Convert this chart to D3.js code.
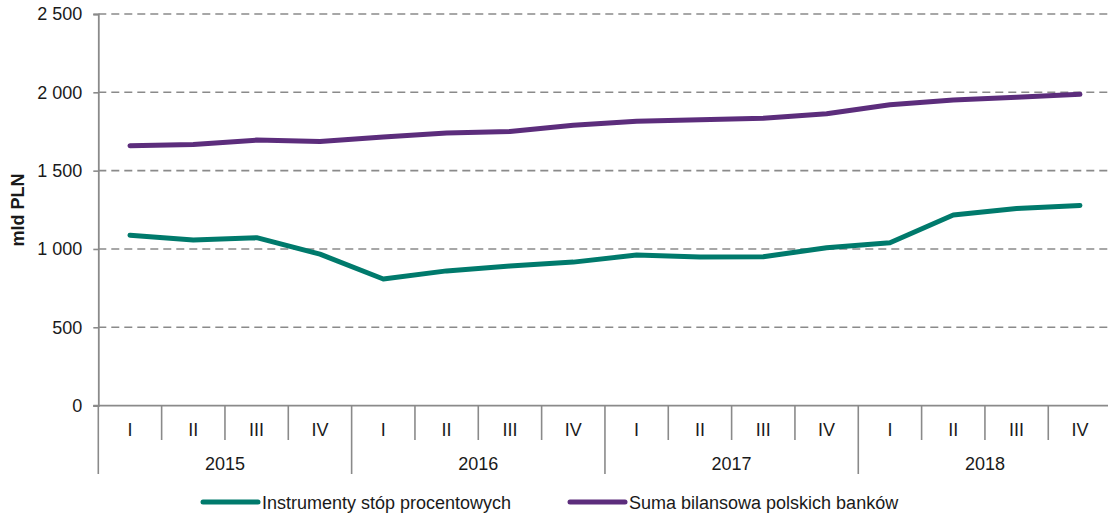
<!DOCTYPE html>
<html>
<head>
<meta charset="utf-8">
<script src="https://cdn.jsdelivr.net/npm/d3@7"></script>
<style>
  body { margin: 0; background: #fff; }
  text { font-family: "Liberation Sans", Arial, sans-serif; fill: #1a1a1a; }
</style>
</head>
<body>
<div id="chart"></div>
<script>
// data
const years = ["2015", "2016", "2017", "2018"];
const quarters = ["I", "II", "III", "IV"];
const instrumenty = [1088, 1057, 1072, 967, 808, 860, 891, 916, 961, 948, 950, 1008, 1040, 1217, 1259, 1278];
const sumaBilansowa = [1659, 1667, 1695, 1686, 1715, 1740, 1750, 1790, 1815, 1825, 1834, 1863, 1921, 1951, 1968, 1987];
const yTicks = [0, 500, 1000, 1500, 2000, 2500];
const seriesNames = ["Instrumenty stóp procentowych", "Suma bilansowa polskich banków"];
const seriesColors = ["#007a6c", "#5c2d7c"];

const width = 1108, height = 515;
const plotLeft = 98.3, plotRight = 1111.6, plotTop = 14, plotBottom = 405.6;

const keys = [];
years.forEach(y => quarters.forEach(q => keys.push(y + "-" + q)));

const svg = d3.select("#chart").append("svg")
  .attr("width", width)
  .attr("height", height);

const x = d3.scaleBand().domain(keys).range([plotLeft, plotRight]);
const y = d3.scaleLinear().domain([0, 2500]).range([plotBottom, plotTop]);

const fmt = v => d3.format(",")(v).replace(",", "\u00a0");

// gridlines
svg.append("g")
  .selectAll("line")
  .data(yTicks.filter(d => d > 0))
  .enter().append("line")
  .attr("x1", plotLeft).attr("x2", width)
  .attr("y1", d => y(d)).attr("y2", d => y(d))
  .attr("stroke", "#8a8a8a")
  .attr("stroke-width", 1.6)
  .attr("stroke-dasharray", "8,5");

// y axis
const yAxis = svg.append("g")
  .attr("transform", `translate(${plotLeft},0)`)
  .call(d3.axisLeft(y).tickValues(yTicks).tickSize(5).tickPadding(11).tickFormat(fmt));
yAxis.select(".domain").attr("stroke", "#8a8a8a").attr("stroke-width", 1.8);
yAxis.selectAll(".tick line").attr("stroke", "#8a8a8a").attr("stroke-width", 1.6);
yAxis.selectAll("text").style("font-size", "18px").attr("fill", "#1a1a1a");

// x axis base line
svg.append("line")
  .attr("x1", plotLeft - 5).attr("x2", width)
  .attr("y1", plotBottom).attr("y2", plotBottom)
  .attr("stroke", "#8a8a8a").attr("stroke-width", 1.8);

// quarter separators
svg.append("g")
  .selectAll("line")
  .data(keys)
  .enter().append("line")
  .attr("x1", d => x(d)).attr("x2", d => x(d))
  .attr("y1", plotBottom)
  .attr("y2", (d, i) => i % 4 === 0 ? 474 : 440)
  .attr("stroke", "#8a8a8a").attr("stroke-width", 1.6);

// quarter labels
svg.append("g")
  .selectAll("text")
  .data(keys)
  .enter().append("text")
  .attr("x", d => x(d) + x.bandwidth() / 2)
  .attr("y", 436)
  .attr("text-anchor", "middle")
  .style("font-size", "18px")
  .text(d => d.split("-")[1]);

// year labels
svg.append("g")
  .selectAll("text")
  .data(years)
  .enter().append("text")
  .attr("x", d => (x(d + "-I") + x(d + "-IV") + x.bandwidth()) / 2)
  .attr("y", 470)
  .attr("text-anchor", "middle")
  .style("font-size", "18px")
  .text(d => d);

// y title
svg.append("text")
  .attr("transform", "translate(24,210) rotate(-90)")
  .attr("text-anchor", "middle")
  .style("font-size", "18px")
  .style("font-weight", "bold")
  .text("mld PLN");

// lines
const line = d3.line()
  .x((d, i) => x(keys[i]) + x.bandwidth() / 2)
  .y(d => y(d));

[instrumenty, sumaBilansowa].forEach((s, i) => {
  svg.append("path")
    .datum(s)
    .attr("d", line)
    .attr("fill", "none")
    .attr("stroke", seriesColors[i])
    .attr("stroke-width", 5)
    .attr("stroke-linecap", "round")
    .attr("stroke-linejoin", "round");
});

// legend
const legendX = [203, 570];
const legend = svg.append("g");
seriesNames.forEach((name, i) => {
  legend.append("line")
    .attr("x1", legendX[i]).attr("x2", legendX[i] + 55)
    .attr("y1", 502).attr("y2", 502)
    .attr("stroke", seriesColors[i])
    .attr("stroke-width", 5)
    .attr("stroke-linecap", "round");
  legend.append("text")
    .attr("x", legendX[i] + 59)
    .attr("y", 508.5)
    .style("font-size", "18px")
    .text(name);
});
</script>
</body>
</html>
